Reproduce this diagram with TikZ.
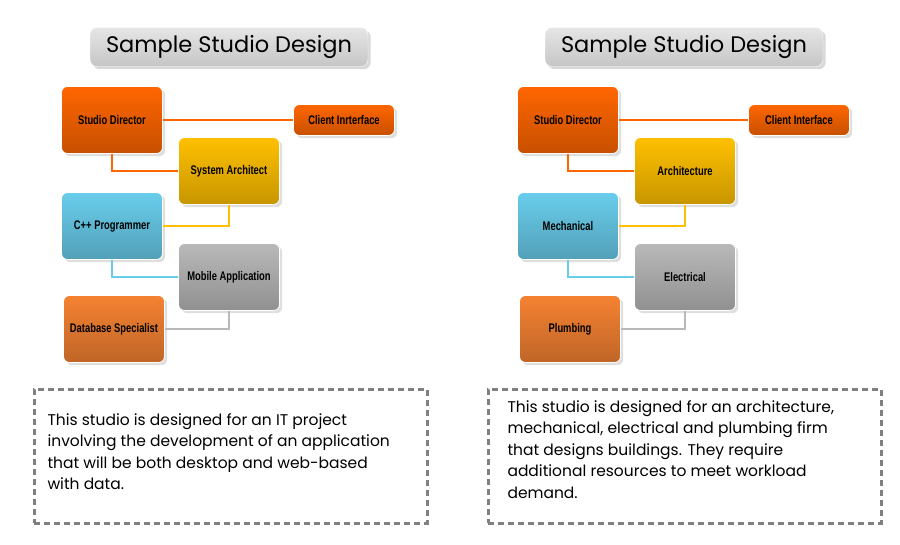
\documentclass[tikz,border=0pt]{standalone}
\usepackage{fontspec}
\setmainfont{Poppins}
\newfontfamily\condfont[FakeStretch=0.75]{Liberation Sans}
\usetikzlibrary{positioning,shadows}

\definecolor{sdorange}{RGB}{255,102,0}
\definecolor{sdyellow}{RGB}{255,192,0}
\definecolor{sdblue}{RGB}{105,205,235}
\definecolor{sdgray}{RGB}{185,185,185}
\definecolor{sdlight}{RGB}{245,130,50}

\tikzset{
	unitbox/.style={draw=white, line width=0.8pt, rounded corners=6pt, minimum width=101pt,
		minimum height=67pt, font=\condfont\bfseries\fontsize{12.5}{14}\selectfont, drop shadow={opacity=0.25},
		top color=#1, bottom color=#1!78!black},
	thinbox/.style={unitbox=#1, minimum height=31pt},
	link/.style={draw=#1, line width=1.8pt},
	titlebox/.style={draw=white, rounded corners=7pt, minimum width=278pt, minimum height=39pt,
		top color=gray!20, bottom color=gray!45, drop shadow={opacity=0.3},
		font=\fontsize{22.5}{25}\selectfont},
	notebox/.style={draw=gray, dash pattern=on 6pt off 4pt, line width=2.6pt,
		minimum width=393pt, minimum height=134pt, anchor=north west},
	note/.style={anchor=north west, align=left, font=\fontsize{15.5}{21.5}\selectfont}
}

\begin{document}
\begin{tikzpicture}[x=1pt, y=-1pt]
	\useasboundingbox (0,0) rectangle (900,544);

	% left panel
	\node[titlebox] (ltitle) at (229,47) {Sample Studio Design};
	\node[unitbox=sdorange] (lsd) at (112,120) {Studio Director};
	\node[thinbox=sdorange] (lci) at (344,120) {Client Inrterface};
	\node[unitbox=sdyellow] (lsa) at (229,171) {System Architect};
	\node[unitbox=sdblue] (lcp) at (112,226) {C++ Programmer};
	\node[unitbox=sdgray] (lma) at (229,277) {Mobile Application};
	\node[unitbox=sdlight] (lds) at (114,329) {Database Specialist};
	\draw[link=sdorange] (lsd.east) -- (lci.west);
	\draw[link=sdorange] (lsd.south) |- (lsa.west);
	\draw[link=sdyellow] (lsa.south) |- (lcp.east);
	\draw[link=sdblue] (lcp.south) |- (lma.west);
	\draw[link=sdgray] (lma.south) |- (lds.east);
	\node[notebox] (lbox) at (33,388) {};
	\node[note] (lnote) at (44,410) {This studio is designed for an IT project\\involving the development of an application\\that will be both desktop and web-based\\with data.};

	% right panel
	\node[titlebox] (rtitle) at (684,47) {Sample Studio Design};
	\node[unitbox=sdorange] (rsd) at (568,120) {Studio Director};
	\node[thinbox=sdorange] (rci) at (799,120) {Client Interface};
	\node[unitbox=sdyellow] (rsa) at (685,171) {Architecture};
	\node[unitbox=sdblue] (rme) at (568,226) {Mechanical};
	\node[unitbox=sdgray] (rel) at (685,277) {Electrical};
	\node[unitbox=sdlight] (rpl) at (570,329) {Plumbing};
	\draw[link=sdorange] (rsd.east) -- (rci.west);
	\draw[link=sdorange] (rsd.south) |- (rsa.west);
	\draw[link=sdyellow] (rsa.south) |- (rme.east);
	\draw[link=sdblue] (rme.south) |- (rel.west);
	\draw[link=sdgray] (rel.south) |- (rpl.east);
	\node[notebox] (rbox) at (487,388) {};
	\node[note] (rnote) at (504,397) {This studio is designed for an architecture,\\mechanical, electrical and plumbing firm\\that designs buildings. They require\\additional resources to meet workload\\demand.};
\end{tikzpicture}
\end{document}
